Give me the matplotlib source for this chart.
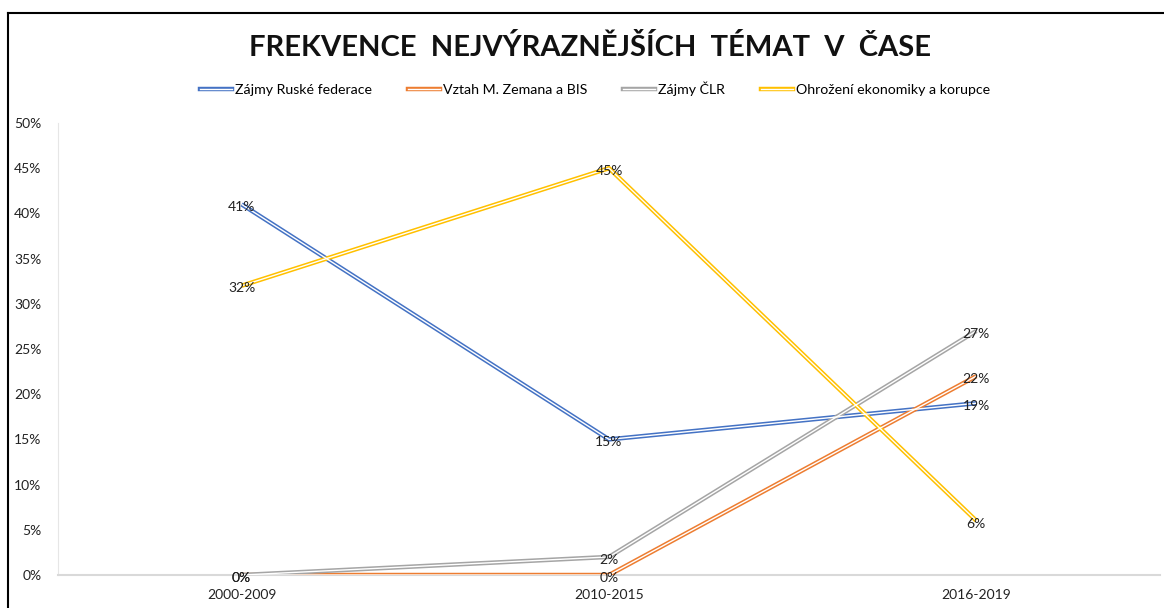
import matplotlib.pyplot as plt
from matplotlib.lines import Line2D
from matplotlib.ticker import PercentFormatter

plt.rcParams['font.family'] = ['Lato', 'DejaVu Sans']

# data
periods = ['2000-2009', '2010-2015', '2016-2019']
series_names = ['Zájmy Ruské federace', 'Vztah M. Zemana a BIS', 'Zájmy ČLR',
                'Ohrožení ekonomiky a korupce']
rusko = [0.41, 0.15, 0.19]
zeman_bis = [0.0, 0.0, 0.22]
clr = [0.0, 0.02, 0.27]
ekonomika = [0.32, 0.45, 0.06]
colors = ['#4472C4', '#ED7D31', '#A5A5A5', '#FFC000']

fig = plt.figure(figsize=(11.64, 6.08), dpi=100)
ax = fig.add_axes([58 / 1164, 33 / 608, 1102 / 1164, 452 / 608])

x = [i + 0.5 for i in range(len(periods))]
handles = []
for vals, c in zip([rusko, zeman_bis, clr, ekonomika], colors):
    # dvojita cara (jako v Excelu)
    ax.plot(x, vals, color=c, lw=3.2, solid_capstyle='butt', zorder=3)
    ax.plot(x, vals, color='white', lw=1.0, solid_capstyle='butt', zorder=4)
    for xi, v in zip(x, vals):
        ax.annotate(f'{v * 100:.0f}%', (xi, v), xytext=(0, -2), textcoords='offset points',
                    ha='center', va='center', fontsize=10, color='#222222', zorder=5)
    handles.append((Line2D([], [], color=c, lw=3.2),
                    Line2D([], [], color='white', lw=1.0)))

ax.set_xlim(0, 3)
ax.set_ylim(0, 0.5)
ax.set_xticks(x)
ax.set_xticklabels(periods, fontsize=10, color='#222222')
ax.set_yticks([i * 0.05 for i in range(11)])
ax.yaxis.set_major_formatter(PercentFormatter(1.0, decimals=0))
ax.tick_params(axis='y', labelsize=10, colors='#222222', length=0, pad=12)
ax.tick_params(axis='x', length=0, pad=10)
for s in ['top', 'right']:
    ax.spines[s].set_visible(False)
ax.spines['left'].set_color('#E6E6E6')
ax.spines['bottom'].set_color('#D9D9D9')
ax.spines['bottom'].set_linewidth(1.5)

fig.suptitle('FREKVENCE  NEJVÝRAZNĚJŠÍCH  TÉMAT  V  ČASE', x=590 / 1164, y=1 - 47 / 608,
             va='center', fontsize=21, fontweight='bold', color='#111111')

fig.legend(handles, series_names, loc='center', bbox_to_anchor=(595 / 1164, 1 - 89 / 608),
           ncol=4, frameon=False, fontsize=10.2, handlelength=2.3, handletextpad=0.2,
           columnspacing=2.5)

# ramecek grafu
fig.add_artist(Line2D([8 / 1164, 8 / 1164], [0, 1 - 12.5 / 608], color='black', lw=1.5))
fig.add_artist(Line2D([8 / 1164, 1], [1 - 12.5 / 608, 1 - 12.5 / 608], color='black', lw=1.5))

fig.savefig('out.png', dpi=100)
